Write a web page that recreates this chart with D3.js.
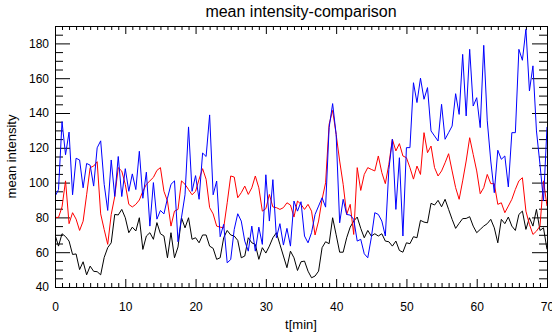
<!DOCTYPE html>
<html>
<head>
<meta charset="utf-8">
<script src="https://cdn.jsdelivr.net/npm/d3@7"></script>
<style>
  body { margin: 0; background: #fff; }
  text { font-family: "Liberation Sans", Arial, sans-serif; fill: #000; }
</style>
</head>
<body>
<svg id="chart"></svg>
<script>
// sampled every 0.5 min from 0 to 70
const tStep = 0.5;

const blackValues = [
    70, 63.5, 70.6, 69, 66.4, 58.7, 59, 50, 54.5, 47,
    52, 49, 48.8, 47, 57, 62.6, 65.4, 81.7, 81.4, 84.6,
    79.8, 71.2, 74.4, 72.2, 79.8, 61.6, 69.3, 71.2, 67.4, 77,
    70.6, 69.3, 56.8, 71.2, 56.8, 63, 79.8, 74, 79.8, 67.4,
    68.3, 65.4, 69.9, 69.9, 63.5, 62.2, 55.9, 56.8, 68.3, 72.5,
    69.9, 69.3, 66.8, 56.8, 57.8, 68.3, 65.4, 64.5, 55.9, 62.6,
    59.5, 63.5, 68.3, 71.2, 64.5, 57.8, 51.1, 60.6, 56.8, 49.5,
    54.5, 54.9, 49.1, 45.3, 46.3, 49.1, 62.6, 66, 64.9, 79.8,
    70, 60, 60, 68.3, 74.4, 77.9, 80.2, 73.7, 68.3, 72.5,
    69.3, 70.6, 69.3, 70.6, 66.4, 66, 63.5, 66.4, 61, 60,
    65.4, 64.9, 68.9, 68.3, 78.3, 77.3, 76.9, 88.1, 87.1, 89.8,
    86.1, 90.4, 84.6, 78.9, 73.7, 76.6, 79.3, 79.4, 80.4, 75,
    71.2, 73.1, 75, 76.4, 78.9, 74, 65.4, 78.9, 76.4, 80.2,
    75, 72.5, 81.7, 83.6, 73.1, 79.8, 75, 84.6, 72.5, 74,
    61.6
];

const redValues = [
    80, 80, 86, 101, 76.4, 82.7, 79, 72.5, 77.8, 93,
    108.6, 109.5, 112, 82, 73, 64.5, 81.7, 92, 108.6, 106.6,
    99, 87.5, 86, 87.5, 90, 95, 99, 101, 103, 107,
    108.6, 95, 89.4, 75, 83.6, 84.6, 101, 99, 96, 93,
    95, 101.9, 108, 101.9, 85.6, 82, 75, 74.4, 74, 88.4,
    103.8, 103.2, 91.3, 94.2, 98, 93.2, 97, 103.8, 97, 83.6,
    85, 93.2, 86, 85.6, 84.6, 85.6, 88.4, 87.1, 80.2, 89.4,
    87.5, 84.6, 87.5, 83.6, 69.9, 77.9, 90.4, 99.9, 133.5, 141.5,
    127.7, 112.4, 99, 81.7, 87.5, 70.2, 108.6, 95.5, 104.7, 108.6,
    107.6, 106.7, 115.3, 105.7, 99.4, 110.5, 124.9, 118.2, 122.4, 115.3,
    114.3, 108.6, 102, 109.5, 104.7, 128.7, 117.2, 121, 108.6, 103.8,
    106.7, 111.4, 116.6, 106.7, 97.1, 90.4, 101, 112.4, 125.8, 116.2,
    106.7, 93.6, 97.1, 104.7, 99.4, 99.4, 87.5, 88.4, 82.7, 86.5,
    90.4, 96.1, 101, 102.8, 83.6, 76, 70.2, 72.1, 75, 101,
    86.5
];

const blueValues = [
    92, 96, 135, 116, 129, 93, 114, 113, 97, 111,
    110, 98, 120, 124, 99, 84, 113, 92, 115, 92,
    108, 95, 105, 96, 118, 91, 106, 75, 100, 79,
    84, 82, 91, 99, 101, 66, 80, 93, 132, 95,
    104, 90.4, 117, 115, 138.9, 93, 100.9, 68.9, 76, 53.9,
    55.8, 73.1, 82.1, 77.9, 66.4, 60.6, 75, 60.6, 74.4, 64.5,
    104.5, 77.9, 101.7, 68.3, 76.4, 64.1, 73.7, 63.5, 89.4, 83.6,
    89, 69.3, 65.4, 71.2, 81.7, 86.5, 91.3, 85.9, 131.6, 145.4,
    127.7, 76.9, 90.4, 81.7, 81.3, 78.9, 66.4, 67.4, 59.1, 56.8,
    68.3, 82.7, 81.7, 77.9, 69.3, 107.6, 124.9, 84.6, 114.3, 69.3,
    120.1, 120.1, 157.4, 146, 160, 147.9, 154.6, 129.7, 126.8, 123.9,
    145, 124.9, 128.7, 132.5, 151.1, 139.2, 173.7, 138.3, 176.6, 144,
    148.8, 131.6, 178.9, 135.5, 112.4, 94.2, 118.6, 113.4, 115.3, 97.5,
    128.7, 128.7, 176.6, 170.3, 188.1, 152.7, 167.1, 129.7, 110.5, 89.4,
    132
];

const xTicks = [0, 10, 20, 30, 40, 50, 60, 70];
const yTicks = [40, 60, 80, 100, 120, 140, 160, 180];

const series = [
    { values: blackValues, color: "#000000" },
    { values: redValues, color: "#ff0000" },
    { values: blueValues, color: "#0000ff" }
];

const margin = { top: 26, right: 4, bottom: 45, left: 55 },
    width = 552 - margin.left - margin.right - 1,
    height = 332 - margin.top - margin.bottom;

const svg0 = d3.select("#chart")
    .attr("width", 552)
    .attr("height", 332);

const svg = svg0.append("g")
    .attr("transform", `translate(${margin.left},${margin.top})`);

// scales
const x = d3.scaleLinear().domain([0, 70]).range([0, width]);
const y = d3.scaleLinear().domain([40, 190]).range([height, 0]);

const xMinor = d3.range(0, 71, 1).filter(v => v % 10 !== 0);
const yMinor = d3.range(40, 191, 5).filter(v => v % 20 !== 0);

function styleAxis(g) {
    g.select(".domain").remove();
    g.selectAll("line").attr("stroke", "#000");
    g.selectAll("text")
        .attr("fill", "#000")
        .style("font-size", "12px")
        .style("font-family", '"Liberation Sans", Arial, sans-serif');
}

// bottom axis (ticks point inward)
svg.append("g")
    .attr("transform", `translate(0,${height})`)
    .call(d3.axisBottom(x).tickValues(xTicks).tickSizeInner(-8).tickSizeOuter(0).tickPadding(15))
    .call(styleAxis);
svg.append("g")
    .attr("transform", `translate(0,${height})`)
    .call(d3.axisBottom(x).tickValues(xMinor).tickSizeInner(-4).tickSizeOuter(0).tickFormat(""))
    .call(styleAxis);

// top axis
svg.append("g")
    .call(d3.axisTop(x).tickValues(xTicks).tickSizeInner(-8).tickSizeOuter(0).tickFormat(""))
    .call(styleAxis);
svg.append("g")
    .call(d3.axisTop(x).tickValues(xMinor).tickSizeInner(-4).tickSizeOuter(0).tickFormat(""))
    .call(styleAxis);

// left axis
svg.append("g")
    .call(d3.axisLeft(y).tickValues(yTicks).tickSizeInner(-15).tickSizeOuter(0).tickPadding(6))
    .call(styleAxis);
svg.append("g")
    .call(d3.axisLeft(y).tickValues(yMinor).tickSizeInner(-8).tickSizeOuter(0).tickFormat(""))
    .call(styleAxis);

// right axis
svg.append("g")
    .attr("transform", `translate(${width},0)`)
    .call(d3.axisRight(y).tickValues(yTicks).tickSizeInner(-15).tickSizeOuter(0).tickFormat(""))
    .call(styleAxis);
svg.append("g")
    .attr("transform", `translate(${width},0)`)
    .call(d3.axisRight(y).tickValues(yMinor).tickSizeInner(-8).tickSizeOuter(0).tickFormat(""))
    .call(styleAxis);

// clip for the data lines
svg.append("clipPath")
    .attr("id", "plot-clip")
    .append("rect")
    .attr("x", 0)
    .attr("y", 0)
    .attr("width", width + 1)
    .attr("height", height + 1);

const line = d3.line()
    .x((d, i) => x(i * tStep))
    .y(d => y(d));

series.forEach(s => {
    svg.append("path")
        .datum(s.values)
        .attr("clip-path", "url(#plot-clip)")
        .attr("d", line)
        .attr("fill", "none")
        .attr("stroke", s.color)
        .attr("stroke-width", 1);
});

// frame
svg.append("rect")
    .attr("x", 0.5)
    .attr("y", 0.5)
    .attr("width", width)
    .attr("height", height)
    .attr("fill", "none")
    .attr("stroke", "#000")
    .attr("stroke-width", 1);

// title and labels
svg0.append("text")
    .attr("x", margin.left + width / 2)
    .attr("y", 17)
    .attr("text-anchor", "middle")
    .style("font-size", "16px")
    .text("mean intensity-comparison");

svg0.append("text")
    .attr("x", margin.left + width / 2)
    .attr("y", 329)
    .attr("text-anchor", "middle")
    .style("font-size", "13px")
    .text("t[min]");

svg0.append("text")
    .attr("transform", "rotate(-90)")
    .attr("x", -(margin.top + height / 2))
    .attr("y", 16)
    .attr("text-anchor", "middle")
    .style("font-size", "13px")
    .text("mean intensity");
</script>
</body>
</html>
